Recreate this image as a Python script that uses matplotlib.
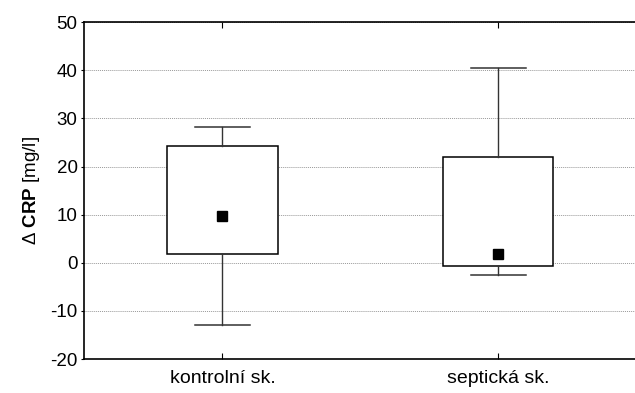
import numpy as np
import matplotlib.pyplot as plt

# Group labels and box statistics (Delta CRP, mg/l)
groups = ["kontrolní sk.", "septická sk."]
q1 = [1.8, -0.6]
q3 = [24.2, 22.0]
whisk_lo = [-12.9, -2.5]
whisk_hi = [28.2, 40.4]
medians = [9.7, 1.8]

plt.rcParams['font.family'] = ['Liberation Sans', 'DejaVu Sans']
plt.rcParams['axes.unicode_minus'] = False
plt.rcParams['mathtext.fontset'] = 'custom'
plt.rcParams['mathtext.rm'] = 'Liberation Sans'
plt.rcParams['mathtext.bf'] = 'Liberation Sans:bold'

fig = plt.figure(figsize=(6.35, 3.93), dpi=100)
ax = fig.add_axes([0.133, 0.0865, 0.869, 0.857])

pos = np.arange(1, len(groups) + 1)
stats = []
for i in range(len(groups)):
    stats.append(dict(med=medians[i], q1=q1[i], q3=q3[i],
                      whislo=whisk_lo[i], whishi=whisk_hi[i], fliers=[]))

ax.bxp(stats, positions=pos, widths=0.4, patch_artist=True, showfliers=False,
       boxprops=dict(facecolor='white', edgecolor='black', linewidth=1.1),
       whiskerprops=dict(color='#333333', linewidth=1.0),
       capprops=dict(color='#333333', linewidth=1.1),
       capwidths=0.2,
       medianprops=dict(linewidth=0), zorder=3)
ax.plot(pos, medians, 's', color='black', markersize=7, zorder=4)

ax.set_xlim(0.5, 2.5)
ax.set_ylim(-20, 50)
ax.set_yticks(np.arange(-20, 51, 10))
ax.set_xticks(pos)
ax.set_xticklabels(groups, fontsize=14)
ax.tick_params(axis='y', labelsize=13.5, direction='out', length=2, pad=3, right=True)
ax.tick_params(axis='x', direction='in', length=4, top=True, pad=8)
ax.yaxis.grid(True, linestyle=(0, (1, 1)), color='#999999', linewidth=0.7, zorder=0)
ax.set_axisbelow(True)
for s in ax.spines.values():
    s.set_linewidth(1.2)

ax.set_ylabel('Δ $\\mathbf{CRP}$ [mg/l]', fontsize=13.5, labelpad=6)

fig.savefig('out.png', dpi=100)
